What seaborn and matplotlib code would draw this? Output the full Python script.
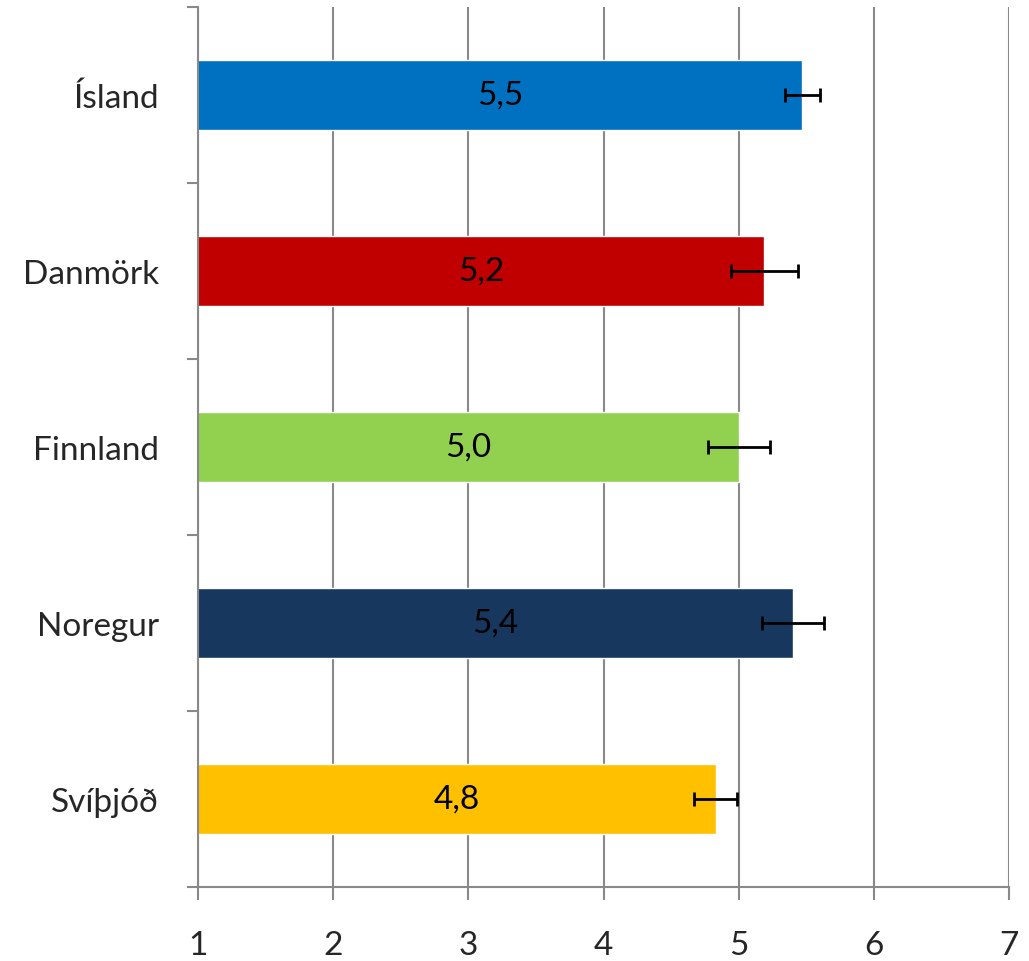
import matplotlib
matplotlib.use("Agg")
import matplotlib.pyplot as plt
import seaborn as sns
import pandas as pd

lond = ["Ísland", "Danmörk", "Finnland", "Noregur", "Svíþjóð"]
gildi = [5.47, 5.19, 5.00, 5.40, 4.83]
skekkja = [0.13, 0.25, 0.23, 0.23, 0.16]
litir = ["#0070C0", "#C00000", "#92D050", "#17375E", "#FFC000"]
x_ticks = [1, 2, 3, 4, 5, 6, 7]

df = pd.DataFrame({"land": lond, "gildi": gildi})

sns.set_style("white")
plt.rcParams["font.family"] = ["Lato", "DejaVu Sans"]
grar = "#898989"

fig = plt.figure(figsize=(10.29, 9.62), dpi=100)
ax = fig.add_axes([198 / 1029, 1 - 888 / 962, (1009 - 198) / 1029, (888 - 8) / 962])

sns.barplot(data=df, x="gildi", y="land", hue="land", palette=litir,
            orient="h", width=0.4, legend=False, ax=ax, saturation=1)

# villustikur
ax.errorbar(gildi, range(len(lond)), xerr=skekkja, fmt="none",
            ecolor="black", elinewidth=2, capsize=5, capthick=2, zorder=5)

# gildi inni i sulum
for i, v in enumerate(gildi):
    ax.text((1 + v) / 2, i, f"{v:.1f}".replace(".", ","), ha="center",
            va="center", fontsize=24, color="black", zorder=6)

ax.set_xlim(1, 7)
ax.set_ylim(len(lond) - 0.5, -0.5)
ax.set_xticks(x_ticks)
ax.set_xticklabels([str(t) for t in x_ticks], fontsize=24)

# tikk a milli flokka, heiti i midju
ax.set_yticks([i - 0.5 for i in range(len(lond) + 1)])
ax.set_yticklabels([])
ax.set_yticks(range(len(lond)), minor=True)
ax.set_yticklabels(lond, minor=True, fontsize=24)
ax.tick_params(axis="y", which="minor", left=False, length=0, pad=28)
ax.tick_params(axis="y", which="major", left=True, length=8, width=1.5,
               color=grar, direction="out")
ax.tick_params(axis="x", bottom=True, length=9, width=1.5, color=grar,
               direction="out", pad=22)

ax.xaxis.grid(True, color=grar, linewidth=1.5)
ax.set_axisbelow(True)
for s in ["top", "right"]:
    ax.spines[s].set_visible(False)
for s in ["left", "bottom"]:
    ax.spines[s].set_color(grar)
    ax.spines[s].set_linewidth(1.5)

ax.set_xlabel("")
ax.set_ylabel("")

fig.savefig("out.png", dpi=100)
